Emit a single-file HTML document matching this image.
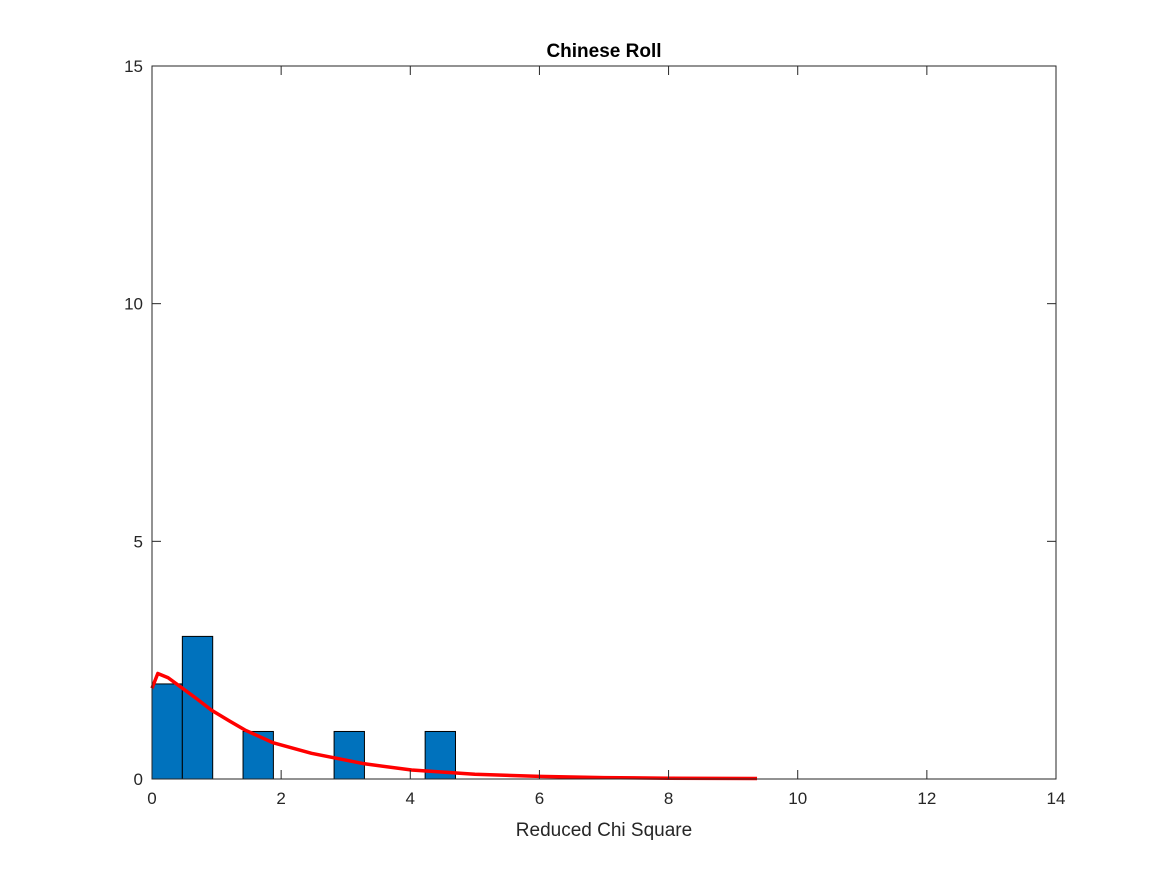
<!DOCTYPE html>
<html><head><meta charset="utf-8"><style>
body{margin:0;background:#fff;}
svg text{font-family:"Liberation Sans",sans-serif;}
</style></head><body>
<svg id="chart" width="1167" height="875" xmlns="http://www.w3.org/2000/svg">
<rect width="1167" height="875" fill="#fff"/>
<g id="plot"></g>
</svg>
<script>
const binStarts = [0, 0.47, 1.41, 2.82, 4.23];
const binCounts = [2, 3, 1, 1, 1];
const binWidth = 0.47;
const curveX = [0, 0.09, 0.25, 0.47, 0.7, 0.92, 1.2, 1.44, 1.88, 2.47, 3.29, 4.02, 5, 6, 7, 8, 9.37];
const curveY = [1.91, 2.22, 2.13, 1.91, 1.68, 1.45, 1.22, 1.03, 0.76, 0.54, 0.32, 0.19, 0.1, 0.055, 0.03, 0.017, 0.01];
const xTicks = [0, 2, 4, 6, 8, 10, 12, 14];
const yTicks = [0, 5, 10, 15];

const L=152,R=1056,T=66,B=779;
const xs=v=>L+(v/14)*(R-L);
const ys=v=>B-(v/15)*(B-T);
const NS="http://www.w3.org/2000/svg";
const g=document.getElementById('plot');
function mk(tag,attrs){const e=document.createElementNS(NS,tag);for(const k in attrs)e.setAttribute(k,attrs[k]);g.appendChild(e);return e;}

binStarts.forEach((s,i)=>{
  const r=mk('rect',{x:xs(s),y:ys(binCounts[i]),width:xs(s+binWidth)-xs(s),height:B-ys(binCounts[i]),fill:'#0072BD',stroke:'#000','stroke-width':1});
  
  
});
const pts=curveX.map((x,i)=>xs(x)+','+ys(curveY[i])).join(' ');
const pl=mk('polyline',{points:pts,fill:'none',stroke:'#FF0000','stroke-width':3.5,'stroke-linejoin':'round'});



const box=mk('rect',{x:L,y:T,width:R-L,height:B-T,fill:'none',stroke:'#262626','stroke-width':1});



xTicks.forEach(t=>{
  const x=xs(t);
  mk('line',{x1:x,y1:B,x2:x,y2:B-9,stroke:'#262626'});
  mk('line',{x1:x,y1:T,x2:x,y2:T+9,stroke:'#262626'});
  const tx=mk('text',{x:x,y:B+25,'text-anchor':'middle','font-size':17,fill:'#262626'});
  tx.textContent=t;
  
  
});
yTicks.forEach(t=>{
  const y=ys(t);
  mk('line',{x1:L,y1:y,x2:L+9,y2:y,stroke:'#262626'});
  mk('line',{x1:R,y1:y,x2:R-9,y2:y,stroke:'#262626'});
  const tx=mk('text',{x:L-9,y:y+6,'text-anchor':'end','font-size':17,fill:'#262626'});
  tx.textContent=t;
  
  
});
const xt=mk('text',{x:(L+R)/2,y:836,'text-anchor':'middle','font-size':19,fill:'#262626'});
xt.textContent='Reduced Chi Square';


const tt=mk('text',{x:(L+R)/2,y:57,'text-anchor':'middle','font-size':19,'font-weight':'bold',fill:'#000'});
tt.textContent='Chinese Roll';


</script>
</body></html>
